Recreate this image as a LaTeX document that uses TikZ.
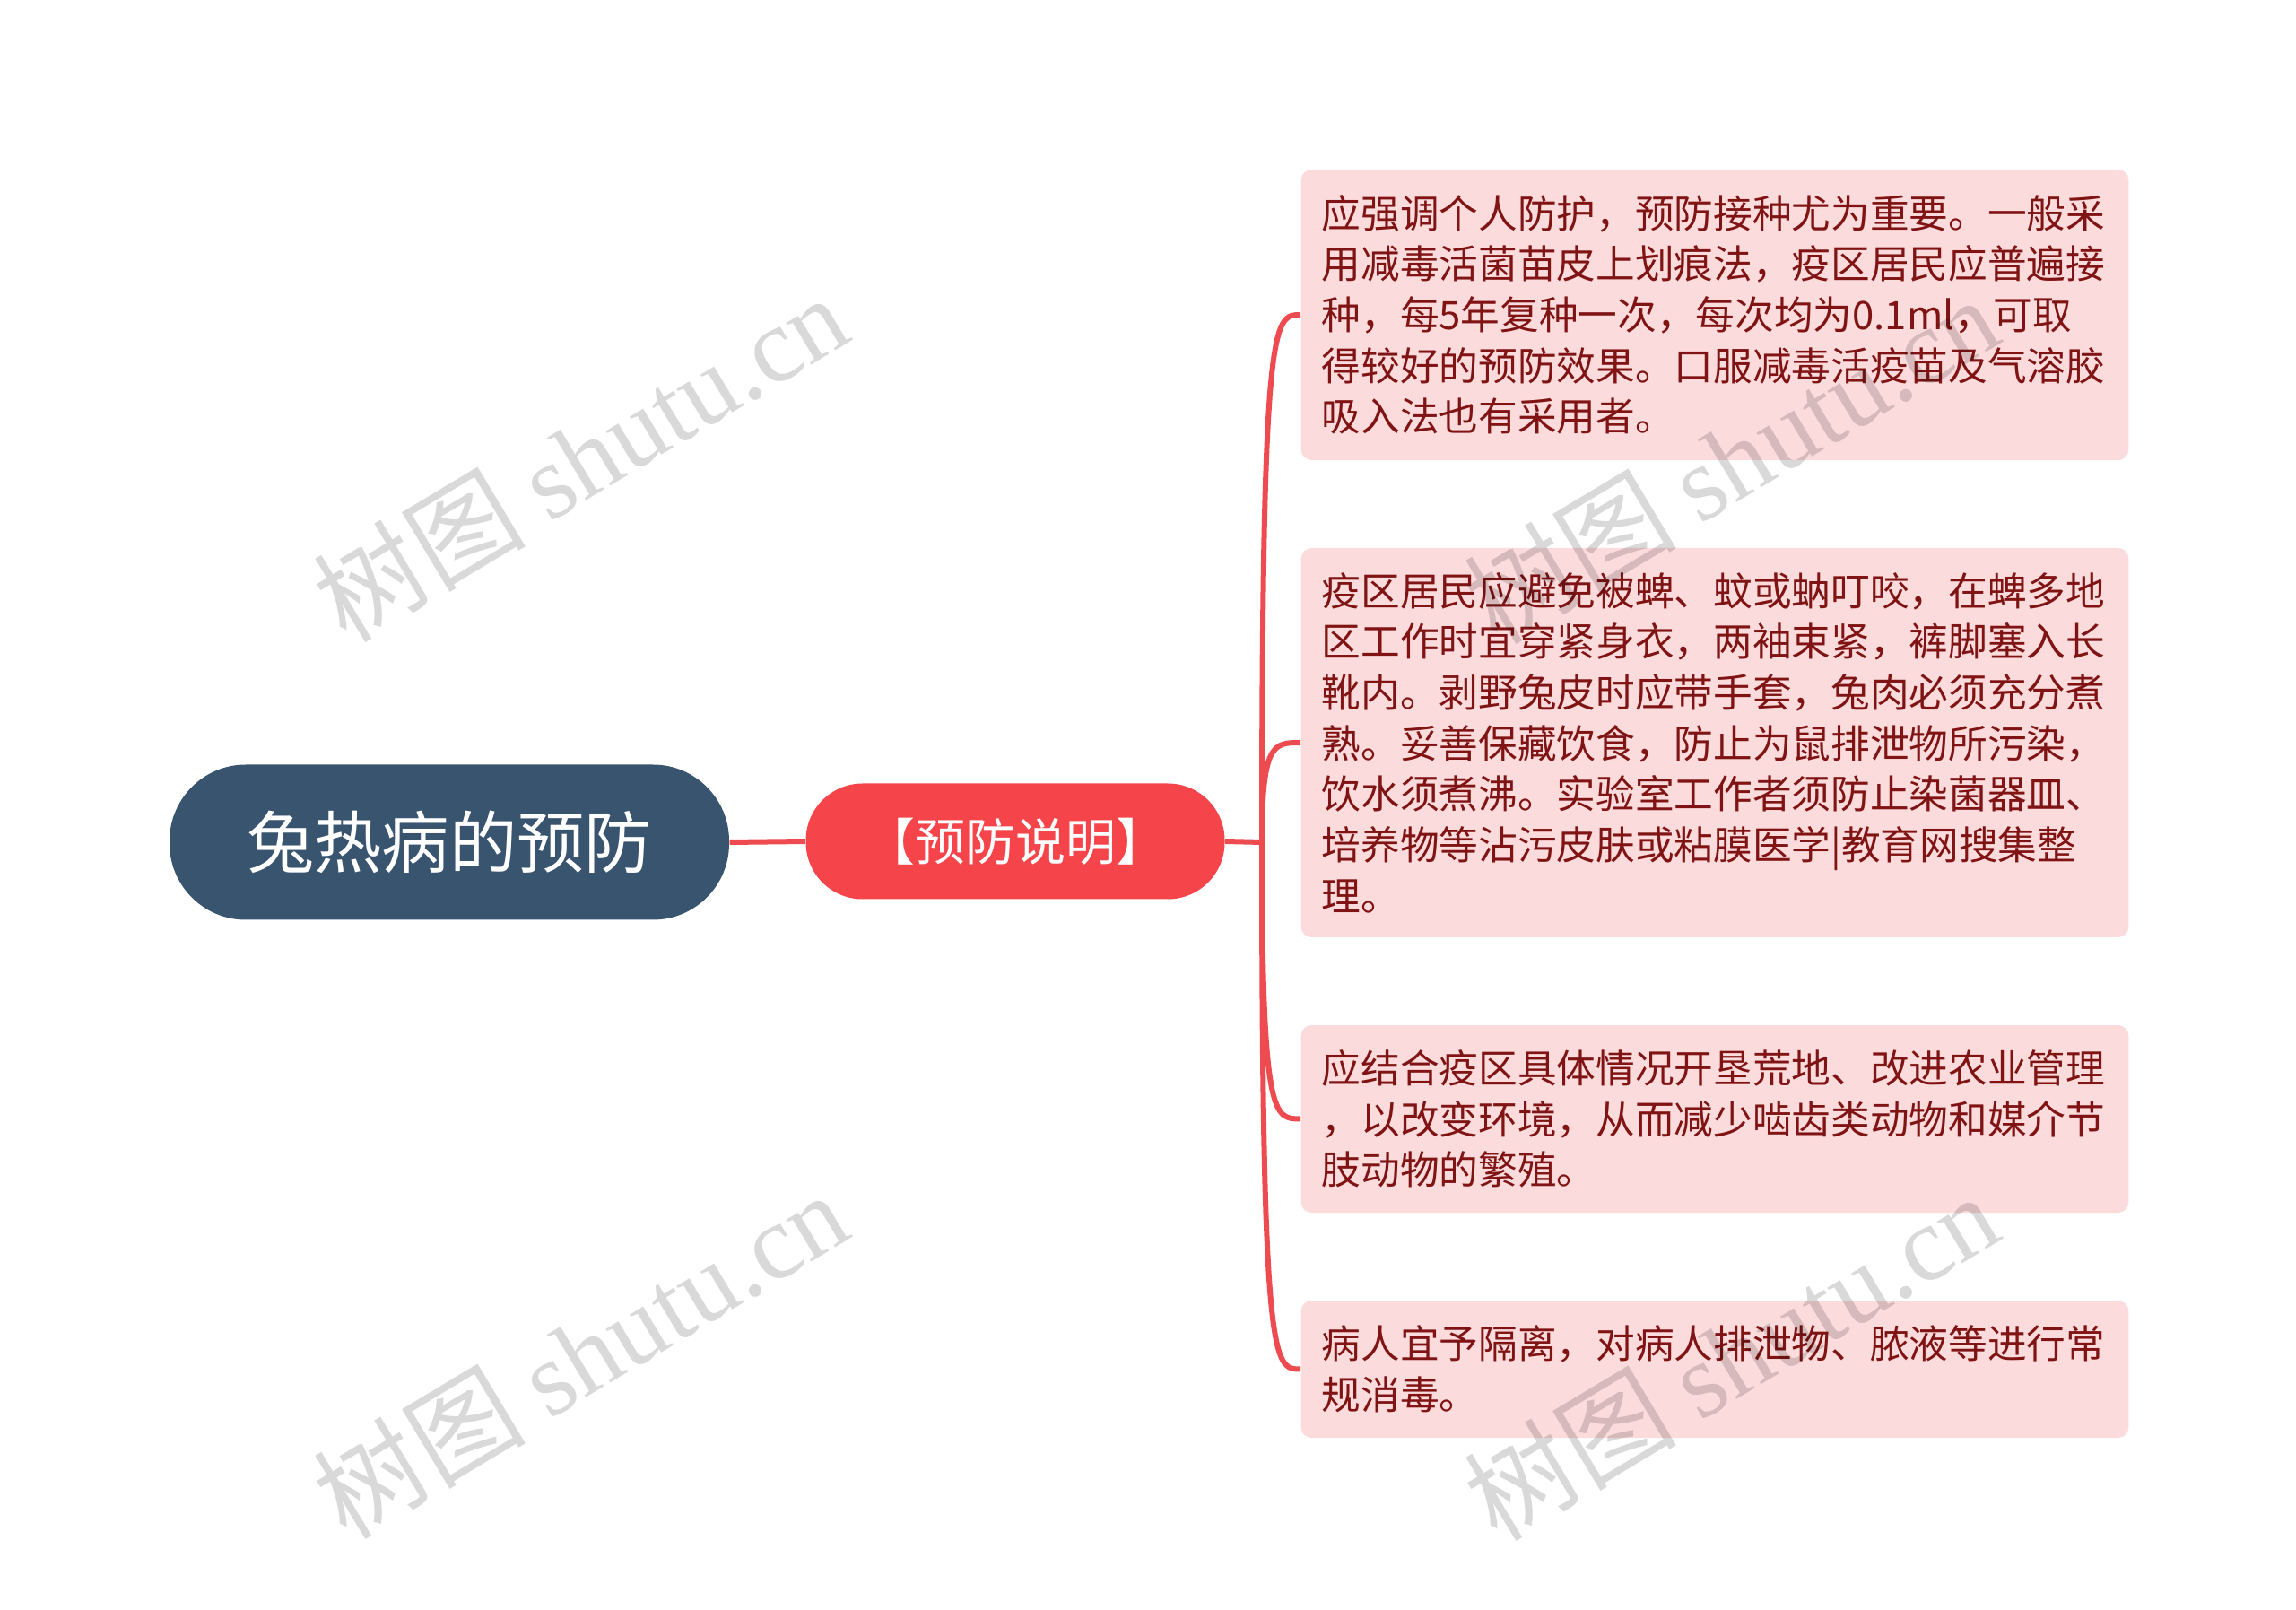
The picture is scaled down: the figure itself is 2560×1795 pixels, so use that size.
\documentclass[tikz,border=0pt]{standalone}
\usepackage{fontspec}
\setmainfont{Noto Sans CJK SC}
\newfontfamily\wmcjk{Noto Sans CJK SC}
\newfontfamily\wmlatin{Liberation Serif}
\definecolor{rootblue}{HTML}{39546E}
\definecolor{midred}{HTML}{F5444A}
\definecolor{boxpink}{HTML}{FCDBDC}
\definecolor{boxtext}{HTML}{801414}
\definecolor{linkred}{HTML}{EE4B50}
\tikzset{
  rootnode/.style={fill=rootblue, text=white, rounded corners=25.5pt,
    minimum width=187.2pt, minimum height=51.9pt, inner sep=0pt,
    font=\fontsize{22.6pt}{26pt}\selectfont},
  midnode/.style={fill=midred, text=white, rounded corners=19pt,
    minimum width=140.1pt, minimum height=38.7pt, inner sep=0pt,
    font=\fontsize{16.8pt}{20pt}\selectfont},
  leafbox/.style={fill=boxpink, text=boxtext, rounded corners=3.5pt,
    text width=263pt, inner xsep=6.9pt, inner ysep=0pt, align=left,
    anchor=west, font=\fontsize{13.1pt}{17pt}\selectfont},
  link/.style={draw=linkred, line width=1.8pt},
  wm/.style={text=black, text opacity=0.15, inner sep=0pt,
    font=\fontsize{35.5pt}{40pt}\selectfont}
}
\begin{document}
\begin{tikzpicture}[x=0.3pt,y=-0.3pt]
\useasboundingbox (0,0) rectangle (2560,1795);

\node[rootnode] (root) at (501,939) {兔热病的预防};
\node[midnode] (mid) at (1132,938) {【预防说明】};
\coordinate (bus) at (1407,939);

\node[leafbox, minimum height=97.2pt] (b1) at (1450,351)
  {应强调个人防护，预防接种尤为重要。一般采\\
   用减毒活菌苗皮上划痕法，疫区居民应普遍接\\
   种，每5年复种一次，每次均为0.1ml，可取\\
   得较好的预防效果。口服减毒活疫苗及气溶胶\\
   吸入法也有采用者。};
\node[leafbox, minimum height=130.2pt] (b2) at (1450,828)
  {疫区居民应避免被蜱、蚊或蚋叮咬，在蜱多地\\
   区工作时宜穿紧身衣，两袖束紧，裤脚塞入长\\
   靴内。剥野兔皮时应带手套，兔肉必须充分煮\\
   熟。妥善保藏饮食，防止为鼠排泄物所污染，\\
   饮水须煮沸。实验室工作者须防止染菌器皿、\\
   培养物等沾污皮肤或粘膜医学|教育网搜集整\\
   理。};
\node[leafbox, minimum height=62.7pt] (b3) at (1450,1247.5)
  {应结合疫区具体情况开垦荒地、改进农业管理\\
   ，以改变环境，从而减少啮齿类动物和媒介节\\
   肢动物的繁殖。};
\node[leafbox, minimum height=45.9pt] (b4) at (1450,1526.5)
  {病人宜予隔离，对病人排泄物、脓液等进行常\\
   规消毒。};

\draw[link] (root.east) -- (mid.west);
\draw[link] (mid.east) -- (bus);
\foreach \b in {b1,b2,b3,b4}{
  \draw[link] (bus) .. controls (bus |- \b.west) and ([xshift=-9pt]\b.west) .. (\b.west);
}

\node[wm, rotate=31] (wm1) at (647,510) {\wmcjk 树图 \wmlatin shutu.cn};
\node[wm, rotate=31] (wm2) at (1930,512) {\wmcjk 树图 \wmlatin shutu.cn};
\node[wm, rotate=31] (wm3) at (647,1510) {\wmcjk 树图 \wmlatin shutu.cn};
\node[wm, rotate=31] (wm4) at (1930,1512) {\wmcjk 树图 \wmlatin shutu.cn};
\end{tikzpicture}
\end{document}
